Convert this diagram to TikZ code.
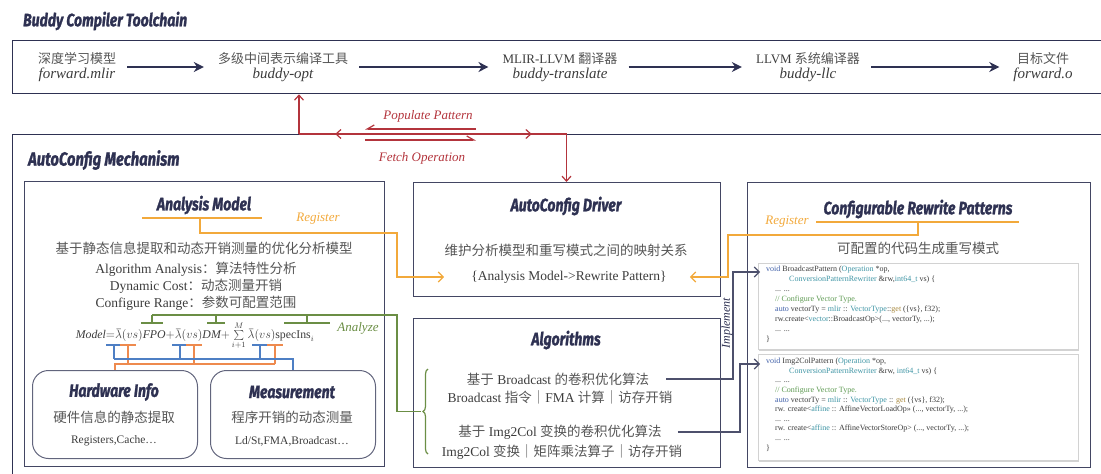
\documentclass[tikz,border=0pt]{standalone}
\usepackage{fontspec}
\setmainfont{Liberation Serif}
\newfontfamily\cjk{Noto Sans CJK SC}
\newfontfamily\titlefont[FakeStretch=0.78, BoldItalicFeatures={FakeBold=1.3}]{Fira Sans}
\usetikzlibrary{arrows.meta,shadows,decorations.pathreplacing,decorations.markings}

\definecolor{navy}{HTML}{2E3152}
\definecolor{redc}{HTML}{B3343C}
\definecolor{orng}{HTML}{F2A93B}
\definecolor{orng2}{HTML}{EE8A4E}
\definecolor{bluec}{HTML}{4E7FC4}
\definecolor{grn}{HTML}{6B8E45}
\definecolor{txtgray}{HTML}{3C3C3C}
\definecolor{zhgray}{HTML}{555555}
\definecolor{kwblue}{HTML}{3F5FA8}
\definecolor{tyteal}{HTML}{3F95A5}
\definecolor{cmgreen}{HTML}{5E9A52}
\definecolor{fnbrown}{HTML}{A98A3F}

\newcommand{\fsz}[1]{\fontsize{#1}{#1}\selectfont}
\newcommand{\zh}[1]{{\cjk\color{zhgray}#1}}
\newcommand{\kw}[1]{{\color{kwblue}#1}}
\newcommand{\ty}[1]{{\color{tyteal}#1}}
\newcommand{\cm}[1]{{\color{cmgreen}#1}}
\newcommand{\fn}[1]{{\color{fnbrown}#1}}
% lambda mit Tilde
\newcommand{\tlam}{\mathord{\tikz[x=1pt, y=1pt, baseline=(lam.base)]{%
  \node[inner sep=0pt] (lam) {$\lambda$};
  \draw[line width=0.45pt] ([xshift=-2.3pt, yshift=1.4pt]lam.north)
    .. controls +(1.1,1.5) and +(-1.1,-1.5) .. ([xshift=2.3pt, yshift=1.4pt]lam.north);}}}

\tikzset{
  frame/.style={draw=navy, line width=1.3pt},
  panel/.style={draw=navy!90, line width=1pt, inner sep=0pt},
  roundbox/.style={panel, draw=navy!75, rounded corners=16pt},
  codebox/.style={draw=gray!35, fill=white, line width=0.6pt, inner sep=0pt,
    drop shadow={opacity=0.35, shadow xshift=1pt, shadow yshift=-2pt}},
  maintitle/.style={font=\titlefont\bfseries\itshape\fsz{18}, text=navy, inner sep=0pt},
  subtitle/.style={font=\titlefont\bfseries\itshape\fsz{18}, text=navy, inner sep=0pt},
  stage/.style={align=center, inner sep=0pt, text=txtgray},
  txt/.style={font=\fsz{13.5}, text=txtgray, inner sep=0pt},
  smalltxt/.style={font=\fsz{11.5}, text=txtgray, inner sep=0pt},
  code/.style={align=left, anchor=north west, inner sep=0pt, text=txtgray},
  flow/.style={draw=navy, line width=2.4pt, -{Stealth[length=10pt, width=10pt]}},
  redline/.style={draw=redc, line width=1.2pt},
  redtip/.style={-{Straight Barb[length=5pt, width=9pt]}},
  redtxt/.style={font=\itshape\fsz{13}, text=redc, inner sep=0pt},
  regline/.style={draw=orng, line width=1.3pt},
  regtxt/.style={font=\itshape\fsz{13}, text=orng, inner sep=0pt},
  grnline/.style={draw=grn, line width=1.2pt},
  blueline/.style={draw=bluec, line width=1.2pt},
  orline/.style={draw=orng2, line width=1.2pt},
  impl/.style={draw=navy!85, line width=1.1pt},
}

\begin{document}
\begin{tikzpicture}[x=1pt, y=-1pt]
  \useasboundingbox (0,0) rectangle (1101,474);
  \clip (0,0) rectangle (1101,474);

  % Toolchain
  \node[maintitle, anchor=west] (tctitle) at (23,21) {Buddy Compiler Toolchain};
  \node[frame, inner sep=0pt, anchor=north west, minimum width=1100pt, minimum height=53pt] (tc) at (12,40) {};

  \node[stage] (s1) at (77,67) {\zh{\fsz{13}深度学习模型}\\[3pt]{\itshape\fsz{15}forward.mlir}};
  \node[stage] (s2) at (283,67) {\zh{\fsz{13}多级中间表示编译工具}\\[3pt]{\itshape\fsz{15}buddy-opt}};
  \node[stage] (s3) at (560,67) {{\fsz{13}MLIR-LLVM \zh{翻译器}}\\[3pt]{\itshape\fsz{15}buddy-translate}};
  \node[stage] (s4) at (808,67) {{\fsz{13}LLVM \zh{系统编译器}}\\[3pt]{\itshape\fsz{15}buddy-llc}};
  \node[stage] (s5) at (1043,67) {\zh{\fsz{13}目标文件}\\[3pt]{\itshape\fsz{15}forward.o}};

  \foreach \a/\b in {s1/s2, s2/s3, s3/s4, s4/s5}
    \draw[flow, shorten <=11pt, shorten >=14pt] (\a.east) -- (\b.west);

  % AutoConfig
  \node[frame, inner sep=0pt, anchor=north west, minimum width=1100pt, minimum height=350pt] (ac) at (12,134) {};
  \node[maintitle, anchor=west, font=\titlefont\bfseries\itshape\fsz{19}] (actitle) at (28,160) {AutoConfig Mechanism};

  % Populate / Fetch
  \coordinate (fork) at (299,134);
  \coordinate (drop) at (566.5,134);
  \draw[redline, redtip] (fork) -- (fork |- tc.south);
  \draw[redline,
    decoration={markings,
      mark=at position 0.135 with {\arrowreversed{Straight Barb[length=5pt, width=9pt]}},
      mark=at position 0.87 with {\arrow{Straight Barb[length=5pt, width=9pt]}}},
    postaction={decorate}]
    (fork) -- (drop);
  \draw[redline, redtip] (drop) -- (drop |- 0,182);
  \node[redtxt] (pop) at (428,116) {Populate Pattern};
  \node[redtxt] (fetch) at (422,158) {Fetch Operation};
  \coordinate (p1) at (476,129);
  \coordinate (f1) at (365,140);
  \draw[redline, -{Straight Barb[harpoon, swap, length=7pt, width=8pt]}] (p1) -- (p1 -| f1);
  \draw[redline, -{Straight Barb[harpoon, length=7pt, width=8pt]}] (f1) -- (f1 -| p1);

  % Analysis Model
  \node[panel, anchor=north west, minimum width=360pt, minimum height=285pt] (am) at (24,181) {};
  \node[subtitle] (amt) at (204,205) {Analysis Model};
  \node[txt] (amd) at (204,248) {\zh{基于静态信息提取和动态开销测量的优化分析模型}};
  \node[txt] (am1) at (196,269) {Algorithm Analysis\zh{：算法特性分析}};
  \node[txt] (am2) at (196,286) {Dynamic Cost\zh{：动态测量开销}};
  \node[txt] (am3) at (196,303) {Configure Range\zh{：参数可配置范围}};
  \node[inner sep=0pt, text=txtgray, font=\fsz{11.8}] (form) at (195,336)
    {$\mathit{Model}{=}\tlam(vs)\mathit{FPO}{+}\tlam(vs)\mathit{DM}{+}\sum\limits_{i+1}^{M}\tlam(vs)\mathrm{specIns}_i$};

  \node[roundbox, anchor=north west, minimum width=165pt, minimum height=88pt] (hw) at (32,370) {};
  \node[subtitle] (hwt) at (114,392) {Hardware Info};
  \node[txt] (hwd) at (114,417) {\zh{硬件信息的静态提取}};
  \node[smalltxt] (hwe) at (114,441) {Registers,Cache…};

  \node[roundbox, anchor=north west, minimum width=165pt, minimum height=88pt] (ms) at (210,370) {};
  \node[subtitle] (mst) at (292,392) {Measurement};
  \node[txt] (msd) at (292,417) {\zh{程序开销的动态测量}};
  \node[smalltxt] (mse) at (292,441) {Ld/St,FMA,Broadcast…};

  % Blau / Orange
  \foreach \x in {114, 180, 260}
    \draw[blueline] (\x-8,345) -- (\x+8,345) (\x,345) -- (\x,359);
  \foreach \x in {128, 194, 275}
    \draw[orline] (\x-8,345) -- (\x+8,345) (\x,345) -- (\x,364);
  \draw[blueline] (114,359) -| (ms.north);
  \draw[orline] (275,364) -| (hw.north);

  % Analyze
  \foreach \x/\w in {152/11, 216/9, 307/23}
    \draw[grnline] (\x-\w,323) -- (\x+\w,323) (\x,323) -- (\x,315);
  \node[font=\itshape\fsz{13}, text=grn, inner sep=0pt] (ana) at (358,328) {Analyze};

  % Driver
  \node[panel, anchor=north west, minimum width=307pt, minimum height=114pt] (drv) at (413,182) {};
  \node[subtitle] (drvt) at (566,206) {AutoConfig Driver};
  \node[txt] (drvd) at (566,250) {\zh{维护分析模型和重写模式之间的映射关系}};
  \node[txt] (drvmap) at (569,277) {\{Analysis Model->Rewrite Pattern\}};

  % Algorithms
  \node[panel, anchor=north west, minimum width=307pt, minimum height=149pt] (alg) at (413,318) {};
  \node[subtitle] (algt) at (566,340) {Algorithms};
  \node[txt] (alg1) at (558,379) {\zh{基于} Broadcast \zh{的卷积优化算法}};
  \node[txt] (alg2) at (560,397) {Broadcast \zh{指令｜}FMA \zh{计算｜访存开销}};
  \node[txt] (alg3) at (560,432) {\zh{基于} Img2Col \zh{变换的卷积优化算法}};
  \node[txt] (alg4) at (562,452) {Img2Col \zh{变换｜矩阵乘法算子｜访存开销}};
  \coordinate (brtip) at (421,411.5);
  \draw[grnline, decorate, decoration={brace, amplitude=5pt}] (428,454) -- (428,369);
  \draw[grnline] (152,315) -- (397,315) |- (brtip);

  % Rewrite Patterns
  \node[panel, anchor=north west, minimum width=343pt, minimum height=285pt] (crp) at (747,182) {};
  \node[subtitle] (crpt) at (918,209) {Configurable Rewrite Patterns};
  \node[txt] (crpd) at (918,248) {\zh{可配置的代码生成重写模式}};

  \node[codebox, anchor=north west, minimum width=320pt, minimum height=86pt] (code1) at (758,263) {};
  \node[code, font=\fontsize{8}{9.9}\selectfont] (c1txt) at (766,266) {%
    \kw{void} BroadcastPattern (\ty{Operation} *op,\\
    \hspace*{23pt}\ty{ConversionPatternRewriter} \&rw,\ty{int64\_t} vs) \{\\
    \hspace*{9pt}... ...\\
    \hspace*{9pt}\cm{// Configure Vector Type.}\\
    \hspace*{9pt}\kw{auto} vectorTy = \ty{mlir} :: \ty{VectorType}::\fn{get} (\{vs\}, f32);\\
    \hspace*{9pt}rw.create<\ty{vector}::BroadcastOp>(..., vectorTy, ...);\\
    \hspace*{9pt}... ...\\
    \}};

  \node[codebox, anchor=north west, minimum width=320pt, minimum height=106pt] (code2) at (758,354) {};
  \node[code, font=\fontsize{8}{9.6}\selectfont] (c2txt) at (766,358) {%
    \kw{void} Img2ColPattern (\ty{Operation} *op,\\
    \hspace*{23pt}\ty{ConversionPatternRewriter} \&rw, \ty{int64\_t} vs) \{\\
    \hspace*{9pt}... ...\\
    \hspace*{9pt}\cm{// Configure Vector Type.}\\
    \hspace*{9pt}\kw{auto} vectorTy = \ty{mlir} :: \ty{VectorType} :: \fn{get} (\{vs\}, f32);\\
    \hspace*{9pt}rw. create<\ty{affine} :: AffineVectorLoadOp>> (..., vectorTy, ...);\\
    \hspace*{9pt}... ...\\
    \hspace*{9pt}rw. create<\ty{affine} :: AffineVectorStoreOp> (..., vectorTy, ...);\\
    \hspace*{9pt}... ...\\
    \}};

  % Register
  \draw[regline] (142,218) -- (262,218);
  \node[regtxt] (reg1) at (318,219) {Register};
  \coordinate (amu) at (200,218);
  \draw[regline, -{Straight Barb[length=5pt, width=10pt]}, shorten >=27pt] (amu) |- (397,233) |- (drvmap.west);

  \draw[regline] (816,222) -- (1019,222);
  \node[regtxt] (reg2) at (787,222) {Register};
  \coordinate (crpu) at (918,222);
  \draw[regline, -{Straight Barb[length=5pt, width=10pt]}, shorten >=23pt] (crpu) |- (728,235) |- (drvmap.east);

  % Implement
  \coordinate (c1in) at (760,272);
  \coordinate (c2in) at (760,364);
  \draw[impl, -{Straight Barb[length=5pt, width=10pt]}, shorten <=17pt] (alg1.east) -| (733,272) -- (c1in);
  \draw[impl, -{Straight Barb[length=5pt, width=10pt]}, shorten <=16pt] (alg3.east) -| (740,364) -- (c2in);
  \node[rotate=90, font=\itshape\fsz{12}, text=navy, inner sep=0pt] (impltxt) at (727,323) {Implement};
\end{tikzpicture}
\end{document}
